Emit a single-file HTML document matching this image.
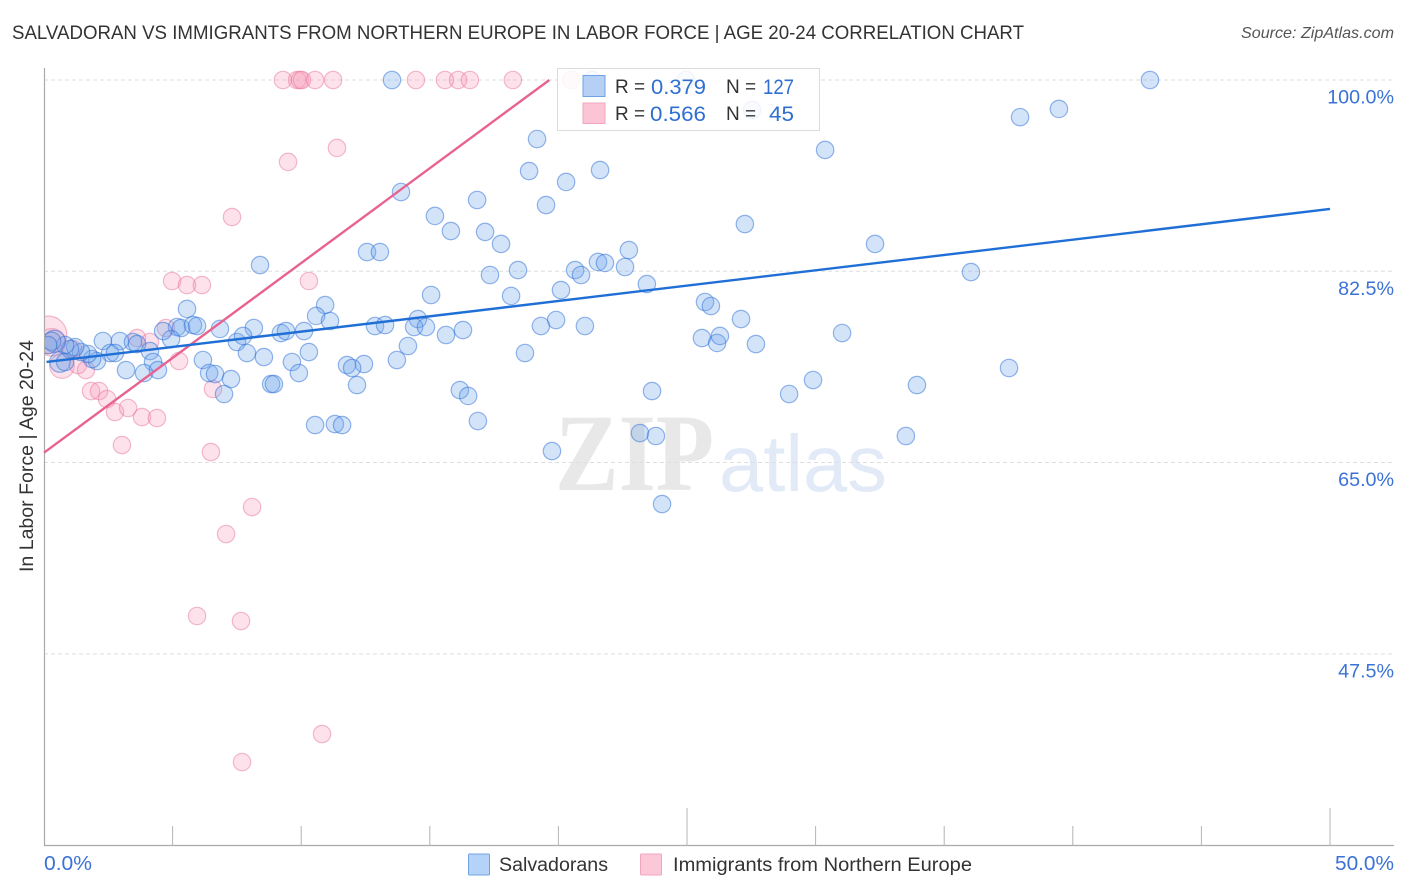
<!DOCTYPE html>
<html lang="en">
<head>
<meta charset="utf-8">
<title>Salvadoran vs Immigrants from Northern Europe in Labor Force | Age 20-24 Correlation Chart</title>
<style>
html,body{margin:0;padding:0;background:#fff;}
body{width:1406px;height:892px;overflow:hidden;font-family:"Liberation Sans",sans-serif;}
svg{display:block;}
text{font-family:"Liberation Sans",sans-serif;}
</style>
</head>
<body>
<svg id="chart" width="1406" height="892" viewBox="0 0 1406 892" xmlns="http://www.w3.org/2000/svg">
  <defs>
    <clipPath id="plot-clip"><rect x="45" y="60" width="1349" height="786"/></clipPath>
  </defs>
  <rect x="0" y="0" width="1406" height="892" fill="#fff"/>
  <text x="12" y="39" font-size="19.5" fill="#333" textLength="1012" lengthAdjust="spacingAndGlyphs">SALVADORAN VS IMMIGRANTS FROM NORTHERN EUROPE IN LABOR FORCE | AGE 20-24 CORRELATION CHART</text>
  <text x="1394" y="38" font-size="16" font-style="italic" fill="#555" text-anchor="end" textLength="153" lengthAdjust="spacingAndGlyphs">Source: ZipAtlas.com</text>
  <text transform="translate(33,456) rotate(-90)" font-size="19" fill="#333" text-anchor="middle" textLength="232" lengthAdjust="spacingAndGlyphs">In Labor Force | Age 20-24</text>
  <g>
    <text x="555" y="490" font-size="110" font-weight="bold" fill="#e8e8e8" style="font-family:'Liberation Serif',serif" textLength="159" lengthAdjust="spacingAndGlyphs">ZIP</text>
    <text x="719" y="491" font-size="80" fill="#e2eaf8" textLength="168" lengthAdjust="spacingAndGlyphs">atlas</text>
  </g>
  <g id="grid"></g>
  <g id="axes"></g>
  <g id="points" clip-path="url(#plot-clip)"></g>
  <g id="trends"></g>
  <g>
    <rect x="557.5" y="68.5" width="262" height="62" fill="#fff" fill-opacity="0.86" stroke="#dcdcdc" stroke-width="1"/>
    <rect x="583" y="75.5" width="22" height="21" fill="#b5cff5" stroke="#6fa3e6" stroke-width="1"/>
    <rect x="583" y="103" width="22" height="20.5" fill="#fcc5d6" stroke="#f2a6bf" stroke-width="1"/>
    <text x="615" y="93" font-size="19" fill="#333">R =</text>
    <text x="651" y="94" font-size="21" fill="#2f6fd0" textLength="55" lengthAdjust="spacingAndGlyphs">0.379</text>
    <text x="726" y="93" font-size="19" fill="#333">N =</text>
    <text x="763" y="94" font-size="21" fill="#2f6fd0" textLength="31" lengthAdjust="spacingAndGlyphs">127</text>
    <text x="615" y="120" font-size="19" fill="#333">R =</text>
    <text x="650" y="121" font-size="21" fill="#2f6fd0" textLength="56" lengthAdjust="spacingAndGlyphs">0.566</text>
    <text x="726" y="120" font-size="19" fill="#333">N =</text>
    <text x="769" y="121" font-size="21" fill="#2f6fd0" textLength="25" lengthAdjust="spacingAndGlyphs">45</text>
  </g>
  <g>
    <g>
      <rect x="468.5" y="854" width="21" height="21" rx="1" fill="#b5d3f8" stroke="#6fa3e6" stroke-width="1"/>
      <text x="499" y="871" font-size="19" fill="#333" textLength="109" lengthAdjust="spacingAndGlyphs">Salvadorans</text>
    </g>
    <g>
      <rect x="640.5" y="854" width="21" height="21" rx="1" fill="#fcc8d8" stroke="#f0a6bf" stroke-width="1"/>
      <text x="673" y="871" font-size="19" fill="#333" textLength="299" lengthAdjust="spacingAndGlyphs">Immigrants from Northern Europe</text>
    </g>
  </g>
</svg>
<script>
// Chart data (x = Salvadorans/Immigrants share %, y = In Labor Force %). Optional third value = marker weight.
const xTickValues = [0,5,10,15,20,25,30,35,40,45,50];
const xMajorTicks = [25,50];
const xEndLabels = ['0.0%','50.0%'];
const yTickValues = [100,82.5,65,47.5];
const yTickLabels = ['100.0%','82.5%','65.0%','47.5%'];
const salvadoranTrend = [[0.1,74.2],[50,88.2]];
const immigrantTrend = [[0,65.9],[19.65,100]];
const salvadoranPoints = [
[13.53,100],[24.96,100],[21.31,100],[43,100],[27.53,97.25],[39.46,97.35],[37.95,96.6],[19.17,94.6],[30.37,93.6],[18.86,91.67],[21.62,91.76],
[20.3,90.67],[13.88,89.75],[16.84,89.02],[19.52,88.56],[15.2,87.56],[15.82,86.18],[17.15,86.1],[27.25,86.82],[17.77,85],[32.31,85],
[12.56,84.26],[13.06,84.26],[22.74,84.44],[8.4,83.07],[21.54,83.35],[21.81,83.26],[20.65,82.61],[20.88,82.16],[18.43,82.61],[17.34,82.16],
[22.59,82.89],[36.04,82.43],[23.44,81.33],[20.1,80.78],[15.05,80.33],[18.16,80.24],[25.7,79.69],[25.93,79.32],[5.56,79.05],[10.93,79.41],
[10.58,78.41],[11.12,77.95],[27.1,78.13],[14.54,78.13],[19.91,78.04],[21.03,77.49],[19.32,77.49],[12.87,77.49],[13.26,77.58],[14.39,77.4],
[14.85,77.4],[16.29,77.12],[15.63,76.67],[31.03,76.85],[25.58,76.39],[26.17,75.94],[26.28,76.58],[27.68,75.84],[14.15,75.66],[18.7,75.02],
[13.72,74.38],[5.17,77.4],[5.33,77.31],[5.79,77.58],[5.95,77.49],[6.84,77.22],[8.16,77.31],[9.21,76.85],[9.41,77.03],[10.11,77.03],
[4.94,76.3],[4.63,77.03],[7.5,76.03],[7.74,76.58],[7.89,75.02],[8.55,74.65],[10.3,75.11],[9.64,74.2],[6.18,74.38],[11.78,73.92],
[12.44,74.01],[11.98,73.65],[9.91,73.19],[6.42,73.19],[6.65,73.1],[7.27,72.64],[12.17,72.09],[8.83,72.18],[8.94,72.18],[7,71.27],
[16.17,71.63],[16.49,71.09],[23.64,71.54],[33.94,72.09],[29.9,72.55],[28.97,71.27],[37.52,73.65],[16.87,68.8],[10.54,68.43],[11.31,68.52],
[11.59,68.43],[23.17,67.7],[23.79,67.43],[33.51,67.43],[19.75,66.05],[24.03,61.2],
[2.29,76.12],[2.95,76.12],[3.46,76.03],[3.62,75.84],[4.12,75.2],[4.24,74.2],[3.19,73.46],[3.89,73.19],[4.43,73.46],[2.57,75.02],
[2.76,75.02],[2.06,74.29],[1.87,74.47],[1.71,74.93],[1.44,75.11],[1.21,75.57],[1.01,75.39],[0.82,75.75],[0.62,74.2,1.4],[0.82,74.2],
[0.4,76.1,1.6],[0.3,76.1,1.1],[0.16,75.75]
];
const immigrantPoints = [
[9.29,100],[9.84,100],[9.95,100],[10.03,100],[10.54,100],[11.24,100],[14.46,100],[15.59,100],[16.1,100],[16.56,100],[18.23,100],[20.49,100],
[11.39,93.78],[9.49,92.5],[7.31,87.46],[4.98,81.61],[5.56,81.24],[6.14,81.24],[10.3,81.61],[4.74,77.31],[3.62,76.39],[4.12,76.03],
[5.25,74.29],[6.57,71.73],[1.83,71.54],[2.14,71.54],[2.45,70.81],[2.76,69.62],[3.27,69.99],[3.81,69.16],[4.39,69.07],[3.03,66.6],
[6.49,65.96],[8.09,60.93],[7.08,58.46],[5.95,50.96],[7.66,50.5],[10.81,40.16],[7.7,37.6],
[0.16,76.7,4.6],[0.3,76,2.5],[0.7,73.83,2],[1.09,75.3,1.3],[1.32,73.92,1],[1.63,73.46,1]
];

const svgNS = 'http://www.w3.org/2000/svg';
const plotLeft = 44, plotRight = 1330, yTop = 80, yPerUnit = 10.93;
const xScale = v => plotLeft + (v - 0) * (plotRight - plotLeft) / 50;
const yScale = v => yTop + (100 - v) * yPerUnit;
const baseRadius = 8.7;
const make = (tag, attrs, parent) => {
  const el = document.createElementNS(svgNS, tag);
  for (const k in attrs) el.setAttribute(k, attrs[k]);
  parent.appendChild(el);
  return el;
};
const gridG = document.getElementById('grid');
const axesG = document.getElementById('axes');
const pointsG = document.getElementById('points');
const trendsG = document.getElementById('trends');

yTickValues.forEach((v, i) => {
  const line = make('line', {x1: plotLeft, x2: 1394, y1: yScale(v), y2: yScale(v), stroke: '#dedede', 'stroke-width': 1, 'stroke-dasharray': '4 3'}, gridG);
  
  
  const label = make('text', {x: 1394, y: yScale(v) + 23.5, 'text-anchor': 'end', 'font-size': 19.7, fill: '#3b72d6'}, axesG);
  
  
  label.textContent = yTickLabels[i];
});

const yAxis = make('line', {x1: 44.5, x2: 44.5, y1: 68, y2: 846, stroke: '#aaa', 'stroke-width': 1.2}, axesG);


const xAxis = make('line', {x1: 44, x2: 1394, y1: 845.5, y2: 845.5, stroke: '#aaa', 'stroke-width': 1.2}, axesG);



xTickValues.slice(1).forEach(v => {
  const tick = make('line', {x1: xScale(v), x2: xScale(v), y1: xMajorTicks.includes(v) ? 808 : 826, y2: 846, stroke: '#b4b4b4', 'stroke-width': 1}, axesG);
  
  
});

const xStart = make('text', {x: 44, y: 870, 'font-size': 20, fill: '#3b72d6', textLength: 48, lengthAdjust: 'spacingAndGlyphs'}, axesG);


xStart.textContent = xEndLabels[0];
const xEnd = make('text', {x: 1335, y: 870, 'font-size': 20, fill: '#3b72d6', textLength: 59, lengthAdjust: 'spacingAndGlyphs'}, axesG);


xEnd.textContent = xEndLabels[1];

immigrantPoints.forEach(p => {
  const c = make('circle', {cx: xScale(p[0]), cy: yScale(p[1]), r: baseRadius * Math.sqrt(p[2] || 1), fill: 'rgba(248,150,182,0.28)', stroke: 'rgba(232,120,158,0.5)', 'stroke-width': 1.2}, pointsG);
  
  
});
salvadoranPoints.forEach(p => {
  const c = make('circle', {cx: xScale(p[0]), cy: yScale(p[1]), r: baseRadius * Math.sqrt(p[2] || 1), fill: 'rgba(110,165,235,0.3)', stroke: 'rgba(43,110,215,0.5)', 'stroke-width': 1.2}, pointsG);
  
  
});

const pinkLine = make('line', {x1: xScale(immigrantTrend[0][0]), y1: yScale(immigrantTrend[0][1]), x2: xScale(immigrantTrend[1][0]), y2: yScale(immigrantTrend[1][1]), stroke: '#e8638f', 'stroke-width': 2.4}, trendsG);


const blueLine = make('line', {x1: xScale(salvadoranTrend[0][0]), y1: yScale(salvadoranTrend[0][1]), x2: xScale(salvadoranTrend[1][0]), y2: yScale(salvadoranTrend[1][1]), stroke: '#1f6fd6', 'stroke-width': 2.4}, trendsG);


</script>
</body>
</html>
